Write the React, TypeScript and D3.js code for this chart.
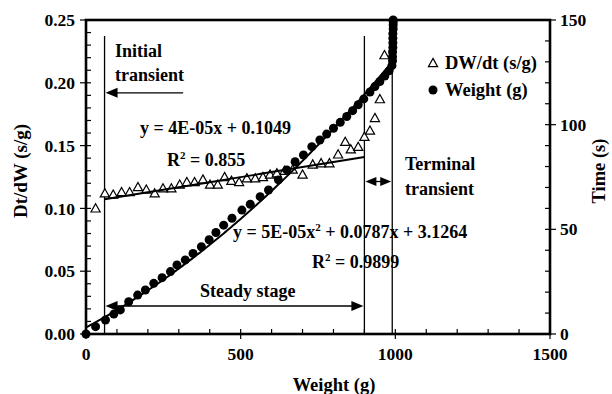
import React from "react";
import * as d3 from "d3";

const W = 612;
const H = 394;

// DW/dt series: sample weight (g) and dt/dW (s/g)
const rateWeight = [31, 61, 88, 115, 141, 168, 195, 222, 249, 276, 303, 326, 351, 378, 401, 426, 448, 470, 495, 520, 547, 572, 595, 617, 642, 668, 700, 733, 760, 787, 815, 838, 856, 880, 900, 918, 934, 950, 965];
const rateValue = [0.100, 0.112, 0.111, 0.113, 0.113, 0.117, 0.115, 0.112, 0.116, 0.116, 0.119, 0.121, 0.121, 0.123, 0.119, 0.119, 0.125, 0.122, 0.121, 0.124, 0.124, 0.125, 0.127, 0.128, 0.130, 0.131, 0.127, 0.135, 0.136, 0.136, 0.143, 0.153, 0.147, 0.149, 0.157, 0.162, 0.172, 0.187, 0.222];

// Weight series: cumulative weight (g) against time (s)
const massWeight = [0, 31, 63, 90, 111, 138, 167, 192, 219, 246, 273, 294, 321, 346, 373, 398, 420, 445, 472, 504, 531, 563, 590, 622, 649, 676, 703, 730, 756, 778, 800, 822, 843, 862, 880, 898, 918, 934, 950, 966, 980, 989, 991, 991, 991, 992, 992, 992, 992, 993, 993, 993, 993];
const massTime = [0, 3.5, 6.7, 9.5, 11.5, 15.4, 18.6, 21, 24.2, 26.9, 29.8, 33, 35.4, 38.5, 41.7, 45, 48.5, 52, 55.3, 59.2, 62, 65.6, 68.8, 73.6, 78.4, 82.3, 85.5, 89.5, 92.7, 95.5, 98.3, 101.1, 103.9, 106.7, 109.5, 112.3, 115.6, 118.2, 120.6, 123.2, 125.7, 128.2, 130.5, 132.5, 134.7, 136.9, 139.1, 141.3, 143.5, 145.7, 147.6, 149, 150];

// Axis ticks
const xTicks = [0, 500, 1000, 1500];
const leftTicks = [0, 0.05, 0.1, 0.15, 0.2, 0.25];
const rightTicks = [0, 50, 100, 150];

// Trendlines: dt/dW = a*W + b over the steady stage, time = a*W^2 + b*W + c
const linCoef = [4e-5, 0.1049];
const linRange = [60, 900];
const quadCoef = [5e-5, 0.0787, 3.1264];
const quadRange = [0, 990];

// Stage boundaries (g): end of initial transient, end of steady stage, end of run
const stageBounds = [60, 900, 990];

const FONT = "'Liberation Serif', 'Times New Roman', Times, serif";

const x = d3.scaleLinear().domain([0, 1500]).range([86, 550]);
const yL = d3.scaleLinear().domain([0, 0.25]).range([334, 20]);
const yR = d3.scaleLinear().domain([0, 150]).range([334, 20]);

// open triangle marker, slightly taller than equilateral
const TRI = "M0,-4.6L4.6,3.6L-4.6,3.6Z";

function head(tipX: number, tipY: number, dir: number, len = 11, half = 4.5) {
  const b = tipX - dir * len;
  return `${tipX},${tipY} ${b},${tipY - half} ${b},${tipY + half}`;
}

export default function App() {
  const rate = rateWeight.map((w, i) => ({ w, v: rateValue[i] }));
  const mass = massWeight.map((w, i) => ({ w, t: massTime[i] }));

  const linLine = d3
    .line<number>()
    .x((w) => x(w))
    .y((w) => yL(linCoef[0] * w + linCoef[1]));
  const quadLine = d3
    .line<number>()
    .x((w) => x(w))
    .y((w) => yR(quadCoef[0] * w * w + quadCoef[1] * w + quadCoef[2]));
  const linPts = d3.range(linRange[0], linRange[1] + 0.1, 10);
  const quadPts = d3.range(quadRange[0], quadRange[1] + 0.1, 5);

  const minorL = d3.range(0, 0.2501, 0.01);
  const minorR = d3.range(0, 150.1, 10);
  const minorX = d3.range(0, 1500.1, 100);

  const [bInit, bSteady, bEnd] = stageBounds.map((b) => x(b));
  const yTop = 36;
  const yInitArrow = yL(0.192);
  const ySteadyArrow = yL(0.0223);
  const yTermArrow = yL(0.1214);

  return (
    <svg
      width={W}
      height={H}
      style={{ position: "absolute", left: 0, top: 0, background: "#fff" }}
      fontFamily={FONT}
      fontWeight="bold"
    >
      <rect width={W} height={H} fill="#fff" />

      {/* minor ticks inside, major ticks outside */}
      <g stroke="#000" strokeWidth={1.2}>
        {minorL.map((v, i) => (
          <line key={"ml" + i} x1={86} x2={91} y1={yL(v)} y2={yL(v)} />
        ))}
        {leftTicks.map((v, i) => (
          <line key={"Ml" + i} x1={80} x2={86} y1={yL(v)} y2={yL(v)} />
        ))}
        {minorR.map((v, i) => (
          <line key={"mr" + i} x1={545} x2={550} y1={yR(v)} y2={yR(v)} />
        ))}
        {rightTicks.map((v, i) => (
          <line key={"Mr" + i} x1={550} x2={556} y1={yR(v)} y2={yR(v)} />
        ))}
        {minorX.map((v, i) => (
          <line key={"mx" + i} x1={x(v)} x2={x(v)} y1={329} y2={334} />
        ))}
        {xTicks.map((v, i) => (
          <line key={"Mx" + i} x1={x(v)} x2={x(v)} y1={334} y2={339} />
        ))}
      </g>

      {/* stage boundaries */}
      <g stroke="#000" strokeWidth={1.3}>
        <line x1={bInit} x2={bInit} y1={yTop} y2={334} />
        <line x1={bSteady} x2={bSteady} y1={yTop} y2={334} />
        <line x1={bEnd} x2={bEnd} y1={60} y2={334} />
      </g>

      {/* stage arrows */}
      <g stroke="#000" strokeWidth={1.3} fill="#000">
        <line x1={x(314)} x2={bInit + 8} y1={yInitArrow} y2={yInitArrow} />
        <polygon points={head(bInit + 1, yInitArrow, -1, 12, 5)} stroke="none" />
        <line x1={bInit + 8} x2={bSteady - 8} y1={ySteadyArrow} y2={ySteadyArrow} />
        <polygon points={head(bInit + 1, ySteadyArrow, -1, 12, 5)} stroke="none" />
        <polygon points={head(bSteady - 1, ySteadyArrow, 1, 12, 5)} stroke="none" />
        <line x1={bSteady + 6} x2={bEnd - 6} y1={yTermArrow} y2={yTermArrow} />
        <polygon points={head(bSteady + 1, yTermArrow, -1, 11, 4.5)} stroke="none" />
        <polygon points={head(bEnd - 1, yTermArrow, 1, 11, 4.5)} stroke="none" />
      </g>

      {/* DW/dt markers */}
      <g fill="#fff" stroke="#000" strokeWidth={1.2}>
        {rate.map((d, i) => (
          <path key={"t" + i} d={TRI} transform={`translate(${x(d.w)},${yL(d.v)})`} />
        ))}
      </g>

      {/* Weight markers */}
      <g fill="#000">
        {mass.map((d, i) => (
          <circle key={"c" + i} cx={x(d.w)} cy={yR(d.t)} r={4.5} />
        ))}
      </g>

      {/* trendlines */}
      <path d={linLine(linPts) ?? ""} fill="none" stroke="#000" strokeWidth={2} />
      <path d={quadLine(quadPts) ?? ""} fill="none" stroke="#000" strokeWidth={2} />

      {/* frame */}
      <rect x={86} y={20} width={464} height={314} fill="none" stroke="#000" strokeWidth={2.6} />

      {/* tick labels */}
      <g fontSize={17.5} fill="#000">
        {leftTicks.map((v, i) => (
          <text key={"ll" + i} x={75} y={yL(v)} dy="0.35em" textAnchor="end">
            {d3.format(".2f")(v)}
          </text>
        ))}
        {rightTicks.map((v, i) => (
          <text key={"rl" + i} x={560} y={yR(v)} dy="0.35em" textAnchor="start">
            {v}
          </text>
        ))}
        {xTicks.map((v, i) => (
          <text key={"xl" + i} x={x(v)} y={360} textAnchor="middle">
            {v}
          </text>
        ))}
      </g>

      {/* axis titles */}
      <g fontSize={18.5} fill="#000">
        <text x={334} y={391} textAnchor="middle">
          Weight (g)
        </text>
        <text transform="translate(27,171) rotate(-90)" textAnchor="middle" fontSize={19}>
          Dt/dW (s/g)
        </text>
        <text transform="translate(605,171) rotate(-90)" textAnchor="middle">
          Time (s)
        </text>
      </g>

      {/* legend */}
      <path d={TRI} transform="translate(433,63)" fill="#fff" stroke="#000" strokeWidth={1.2} />
      <text x={445} y={69} fontSize={18.5}>
        DW/dt (s/g)
      </text>
      <circle cx={433} cy={90} r={4.5} fill="#000" />
      <text x={445} y={96} fontSize={18.5}>
        Weight (g)
      </text>

      {/* annotations */}
      <g fontSize={18} fill="#000">
        <text x={115} y={57}>Initial</text>
        <text x={115} y={81}>transient</text>
        <text x={405} y={170}>Terminal</text>
        <text x={405} y={195}>transient</text>
        <text x={200} y={297}>Steady stage</text>
        <text x={140} y={134}>y = 4E-05x + 0.1049</text>
        <text x={167} y={166}>
          R<tspan dy={-7} fontSize={11}>2</tspan>
          <tspan dy={7}> = 0.855</tspan>
        </text>
        <text x={233} y={238}>
          y = 5E-05x<tspan dy={-7} fontSize={11}>2</tspan>
          <tspan dy={7}> + 0.0787x + 3.1264</tspan>
        </text>
        <text x={312} y={268}>
          R<tspan dy={-7} fontSize={11}>2</tspan>
          <tspan dy={7}> = 0.9899</tspan>
        </text>
      </g>
    </svg>
  );
}
